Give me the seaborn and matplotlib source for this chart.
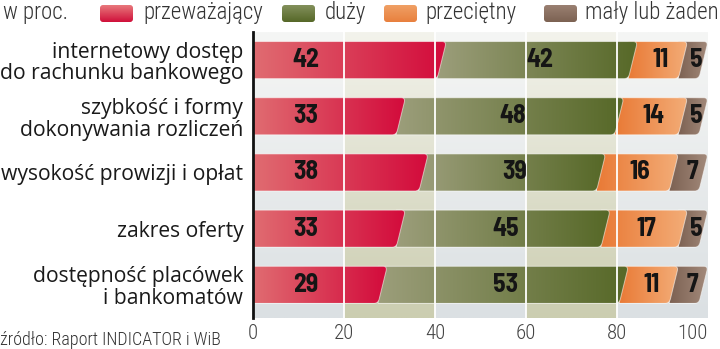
import numpy as np
import pandas as pd
import matplotlib
matplotlib.use("Agg")
import matplotlib.pyplot as plt
import seaborn as sns
from matplotlib.path import Path
from matplotlib.patches import PathPatch, FancyBboxPatch
from matplotlib.colors import LinearSegmentedColormap

# ---- data -------------------------------------------------------------
categories = [
    "internetowy dostęp\ndo rachunku bankowego",
    "szybkość i formy\ndokonywania rozliczeń",
    "wysokość prowizji i opłat",
    "zakres oferty",
    "dostępność placówek\ni bankomatów",
]
przewazajacy = [42, 33, 38, 33, 29]
duzy = [42, 48, 39, 45, 53]
przecietny = [11, 14, 16, 17, 11]
maly_lub_zaden = [5, 5, 7, 5, 7]

series_names = ["przeważający", "duży", "przeciętny", "mały lub żaden"]
x_ticks = [0, 20, 40, 60, 80, 100]
source_text = "źródło: Raport INDICATOR i WiB"
unit_text = "w proc."

# ---- styling ----------------------------------------------------------
seg_grad = {
    "przeważający": ("#e06c71", "#d30a3b"),
    "duży": ("#9c9e7b", "#566827"),
    "przeciętny": ("#e97a36", "#f3ad78"),
    "mały lub żaden": ("#7c6152", "#a38a7b"),
}
swatch_grad = {
    "przeważający": ("#e8787c", "#d0103a"),
    "duży": ("#83905c", "#566828"),
    "przeciętny": ("#f0a065", "#e8803e"),
    "mały lub żaden": ("#9a8072", "#7c6252"),
}
NARROW = ["Roboto Condensed", "DejaVu Sans"]
NUMBERS = ["Barlow Semi Condensed", "Roboto Condensed", "DejaVu Sans"]

sns.set_theme(style="white")
plt.rcParams["font.family"] = ["Open Sans", "DejaVu Sans"]

df = pd.DataFrame({
    "kategoria": categories,
    "przeważający": przewazajacy,
    "duży": duzy,
    "przeciętny": przecietny,
    "mały lub żaden": maly_lub_zaden,
})
cum = df[series_names].cumsum(axis=1)

fig = plt.figure(figsize=(7.2, 3.49), dpi=100)
ax = fig.add_axes([253 / 720, 1 - 318 / 349, 455 / 720, 286 / 349])

BAR_W = 0.66
# stacked bars: draw the cumulative totals from the longest layer down
for name in reversed(series_names):
    sns.barplot(x=cum[name], y=df["kategoria"], orient="h",
                color=seg_grad[name][1], width=BAR_W, ax=ax)

YLIM = (4.59, -0.5)

# background panel: alternating vertical bands with a soft top-to-bottom fade
band_cols = [("#f5f6f5", "#dbe0e3"), ("#f3f3ec", "#cbcdb0")]
for i in range(5):
    top_c, bot_c = band_cols[i % 2]
    cm = LinearSegmentedColormap.from_list("band", [top_c, bot_c])
    ax.imshow(np.linspace(0, 1, 256)[:, None], cmap=cm, aspect="auto",
              origin="upper", extent=(20 * i, 20 * i + 20, YLIM[0], YLIM[1]),
              zorder=0, interpolation="bilinear")


def segment_path(x0, v, c, hh, top_off=0.5, bot_off=-1.5, rx=0.9, t=0.12):
    """Bar segment from x0 to value v, slanted rounded right end."""
    shift = min(0.0, 100 - (v + top_off))
    tx, bx = v + top_off + shift, v + bot_off + shift
    top, bot = c - hh, c + hh
    verts = [
        (x0, top),
        (tx - rx, top),
        (tx, top),
        (tx + t * (bx - tx), top + t * (bot - top)),
        (bx + t * (tx - bx), bot + t * (top - bot)),
        (bx, bot),
        (bx - rx, bot),
        (x0, bot),
        (x0, top),
    ]
    codes = [Path.MOVETO, Path.LINETO, Path.CURVE3, Path.CURVE3, Path.LINETO,
             Path.CURVE3, Path.CURVE3, Path.LINETO, Path.CLOSEPOLY]
    return Path(verts, codes), tx


# replace the flat seaborn bars by gradient-filled shaped segments
patches = list(ax.patches)
n = len(categories)
for layer, name in enumerate(reversed(series_names)):
    idx = series_names.index(name)
    cm = LinearSegmentedColormap.from_list(name, list(seg_grad[name]))
    for j in range(n):
        p = patches[layer * n + j]
        p.set_visible(False)
        c = p.get_y() + p.get_height() / 2
        hh = p.get_height() / 2
        v = p.get_width()
        start = 0 if idx == 0 else cum[series_names[idx - 1]].iloc[j] - 1.5
        path, right = segment_path(start, v, c, hh)
        z = 2.4 - idx * 0.1
        shape = PathPatch(path, facecolor="none",
                          edgecolor=(1, 1, 1, 0.55), lw=0.7, zorder=z + 0.01)
        ax.add_patch(shape)
        im = ax.imshow(np.linspace(0, 1, 256)[None, :], cmap=cm, aspect="auto",
                       extent=(start, right, c + hh, c - hh),
                       zorder=z, interpolation="bilinear")
        im.set_clip_path(shape)

# white grid lines across the panel and bars
for gx in x_ticks[1:-1]:
    ax.axvline(gx, color="white", lw=1.3, zorder=3)

# value labels
for j in range(n):
    prev = 0
    for idx, name in enumerate(series_names):
        val = df[name].iloc[j]
        xpos = 11.5 if idx == 0 else prev + val / 2
        ax.text(xpos, j, f"{val}", ha="center", va="center", fontsize=18.5,
                fontweight="bold", family=NUMBERS, color="#151515", zorder=5)
        prev += val

ax.set_xlim(0, 100)
ax.set_ylim(*YLIM)
ax.set_xlabel("")
ax.set_ylabel("")
for s in ["top", "right", "bottom"]:
    ax.spines[s].set_visible(False)
ax.spines["left"].set_color("#111111")
ax.spines["left"].set_linewidth(2)
ax.spines["left"].set_zorder(6)

ax.set_xticks(x_ticks)
ax.set_xticklabels([str(t) for t in x_ticks], family=NARROW, fontsize=15,
                   fontweight="light", color="#444444")
ax.get_xticklabels()[-1].set_ha("right")
ax.tick_params(axis="x", length=0, pad=4)
ax.set_yticks(range(n))
ax.set_yticklabels(categories, fontsize=15.2, color="#1a1a1a",
                   linespacing=1.05)
ax.tick_params(axis="y", length=0, pad=7)

# legend row and footnote on a pixel-based overlay
lax = fig.add_axes([0, 0, 1, 1], zorder=10)
lax.set_xlim(0, 720)
lax.set_ylim(349, 0)
lax.axis("off")
lax.patch.set_alpha(0)

lax.text(3, 13, unit_text, family=NARROW, fontsize=16.5, fontweight="light",
         color="#333333", va="center", ha="left")
swatch_x = [100, 282, 384, 544]
label_x = [143, 325, 425, 585]
for name, sx, lx in zip(series_names, swatch_x, label_x):
    box = FancyBboxPatch((sx, 5), 33, 17,
                         boxstyle="round,pad=0,rounding_size=3",
                         facecolor="none", edgecolor="none")
    lax.add_patch(box)
    cm = LinearSegmentedColormap.from_list("sw" + name, list(swatch_grad[name]))
    im = lax.imshow(np.linspace(0, 1, 64)[:, None], cmap=cm, aspect="auto",
                    origin="upper", extent=(sx, sx + 33, 22, 5),
                    interpolation="bilinear")
    im.set_clip_path(box)
    lax.text(lx, 13, name, family=NARROW, fontsize=16.5, fontweight="light",
             color="#333333", va="center", ha="left")
lax.set_xlim(0, 720)
lax.set_ylim(349, 0)

lax.text(0, 340, source_text, family=NARROW, fontsize=13, fontweight="light",
         color="#333333", va="center", ha="left")

fig.savefig("out.png", dpi=100)
